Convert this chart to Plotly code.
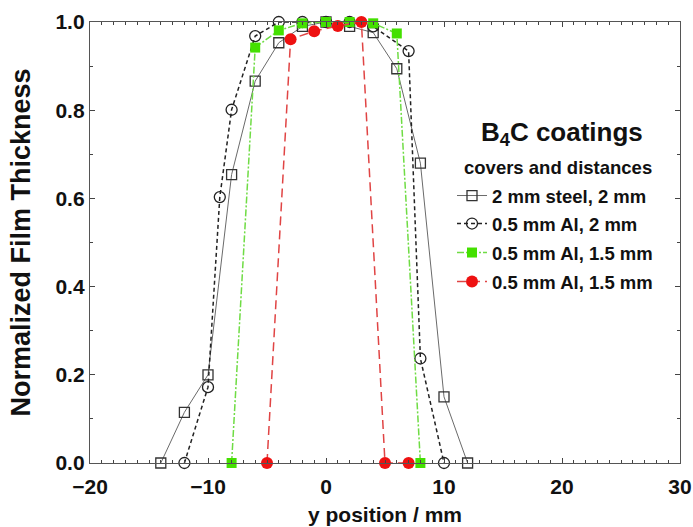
import plotly.graph_objects as go

# ---- data ----
steel_x = [-14, -12, -10, -8, -6, -4, -2, 0, 2, 4, 6, 8, 10, 12]
steel_y = [0.0, 0.115, 0.20, 0.654, 0.866, 0.953, 0.99, 1.0, 0.99, 0.976, 0.894, 0.680, 0.150, 0.0]

al2_x = [-12, -10, -9, -8, -6, -4, -2, 0, 2, 4, 7, 8, 10]
al2_y = [0.0, 0.172, 0.603, 0.801, 0.968, 1.0, 1.0, 1.0, 1.0, 0.99, 0.934, 0.237, 0.0]

alg_x = [-8, -6, -4, -2, 0, 2, 4, 6, 8]
alg_y = [0.0, 0.942, 0.981, 0.997, 1.0, 1.0, 0.997, 0.974, 0.0]

alr_x = [-5, -3, -1, 1, 3, 5, 7]
alr_y = [0.0, 0.961, 0.979, 0.991, 1.0, 0.0, 0.0]

names = ["2 mm steel, 2 mm", "0.5 mm Al, 2 mm", "0.5 mm Al, 1.5 mm", "0.5 mm Al, 1.5 mm"]
legend_title = "B<sub>4</sub>C coatings"
legend_subtitle = "covers and distances"
x_title = "y position / mm"
y_title = "Normalized Film Thickness"

FONT = "Liberation Sans, Arial, sans-serif"
INK = "#111111"

fig = go.Figure()
fig.add_trace(go.Scatter(
    x=steel_x, y=steel_y, name=names[0], mode="lines+markers", legend="legend",
    line=dict(color="#6a6a6a", width=1),
    marker=dict(symbol="square-open", size=10, color="#333333", line=dict(width=1.3)),
    cliponaxis=False))
fig.add_trace(go.Scatter(
    x=al2_x, y=al2_y, name=names[1], mode="lines+markers", legend="legend2",
    line=dict(color="#222222", width=1.5, dash="4px,3px"),
    marker=dict(symbol="circle-open", size=11, color="#222222", line=dict(width=1.3)),
    cliponaxis=False))
fig.add_trace(go.Scatter(
    x=alg_x, y=alg_y, name=names[2], mode="lines+markers", legend="legend3",
    line=dict(color="#6fdc44", width=1.5, dash="7px,2px,2px,2px"),
    marker=dict(symbol="square", size=10, color="#44e000"),
    cliponaxis=False))
fig.add_trace(go.Scatter(
    x=alr_x, y=alr_y, name=names[3], mode="lines+markers", legend="legend4",
    line=dict(color="#e04444", width=1.5, dash="9px,5px"),
    marker=dict(symbol="circle", size=12, color="#ee1111"),
    cliponaxis=False))

axis_common = dict(
    showline=True, linecolor="#555555", linewidth=1.3, mirror="allticks",
    ticks="inside", ticklen=5, tickwidth=1, tickcolor="#444444",
    showgrid=False, zeroline=False, automargin=False,
    tickfont=dict(family=FONT, size=21, color=INK, weight="bold"),
)

fig.update_xaxes(
    range=[-20, 30], dtick=10, tick0=-20, ticklabelstandoff=5,
    minor=dict(dtick=1, ticks="inside", ticklen=3, tickcolor="#444444", showgrid=False),
    title=dict(text=x_title, font=dict(family=FONT, size=21, color=INK, weight="bold"), standoff=9),
    **axis_common)
fig.update_yaxes(
    range=[0, 1], dtick=0.2, tickformat=".1f",
    minor=dict(dtick=0.1, ticks="inside", ticklen=3, tickcolor="#444444", showgrid=False),
    title=dict(text=y_title, font=dict(family=FONT, size=27, color=INK, weight="bold"), standoff=16),
    **axis_common)

fig.add_annotation(xref="x", yref="y", x=20.0, y=0.748, text=legend_title,
                   showarrow=False, font=dict(family=FONT, size=26, color=INK, weight="bold"))
fig.add_annotation(xref="x", yref="y", x=19.7, y=0.671, text=legend_subtitle,
                   showarrow=False, font=dict(family=FONT, size=18.5, color=INK, weight="bold"))

# plot area in px: left 90, right 680, top 22, bottom 463
def leg(yc):
    return dict(x=(452 - 90) / 590, y=(463 - yc) / 441, xanchor="left", yanchor="middle",
                bgcolor="rgba(0,0,0,0)", borderwidth=0,
                font=dict(family=FONT, size=18.5, color=INK, weight="bold"),
                itemwidth=30)

fig.update_layout(
    width=693, height=527,
    margin=dict(l=90, r=13, t=22, b=64),
    paper_bgcolor="white", plot_bgcolor="white",
    showlegend=True,
    legend=leg(196), legend2=leg(224), legend3=leg(253), legend4=leg(282),
)

fig.write_html("out.html", config={"displayModeBar": False},
               post_script="document.body.style.margin='0';")
